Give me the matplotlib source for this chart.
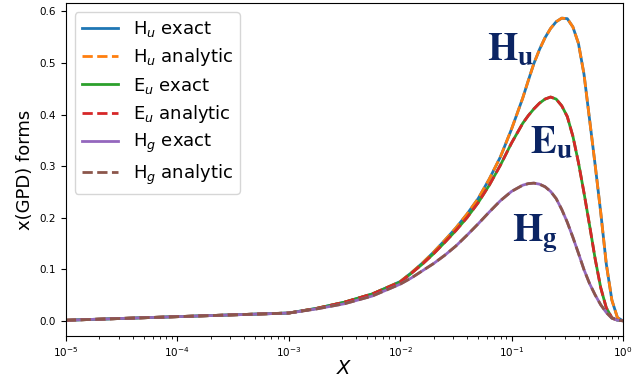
import numpy as np
import matplotlib
matplotlib.use('Agg')
import matplotlib.pyplot as plt

# x grid (log10 of x) and curve values
log_x = [-5, -4, -3, -2.75, -2.5, -2.25, -2.0, -1.9, -1.8, -1.7, -1.6, -1.5,
         -1.4, -1.3, -1.2, -1.1, -1.0, -0.9, -0.85, -0.8, -0.75, -0.7, -0.65,
         -0.6, -0.55, -0.5, -0.45, -0.4, -0.35, -0.3, -0.25, -0.2, -0.15,
         -0.1, -0.05, 0]
hu = [0.001, 0.008, 0.015, 0.024, 0.036, 0.052, 0.076, 0.093, 0.112, 0.133,
      0.156, 0.180, 0.207, 0.237, 0.275, 0.318, 0.372, 0.432, 0.466, 0.499,
      0.526, 0.549, 0.567, 0.580, 0.587, 0.586, 0.570, 0.538, 0.478, 0.390,
      0.302, 0.210, 0.110, 0.040, 0.006, 0.0]
eu = [0.001, 0.008, 0.015, 0.024, 0.036, 0.052, 0.075, 0.092, 0.110, 0.130,
      0.152, 0.175, 0.200, 0.229, 0.263, 0.302, 0.345, 0.383, 0.398, 0.411,
      0.422, 0.430, 0.434, 0.430, 0.417, 0.396, 0.358, 0.307, 0.248, 0.185,
      0.120, 0.064, 0.025, 0.006, 0.001, 0.0]
hg = [0.001, 0.008, 0.015, 0.023, 0.033, 0.048, 0.071, 0.083, 0.097, 0.111,
      0.127, 0.145, 0.166, 0.188, 0.211, 0.233, 0.251, 0.263, 0.266, 0.267,
      0.265, 0.260, 0.251, 0.237, 0.216, 0.191, 0.162, 0.131, 0.099, 0.072,
      0.050, 0.031, 0.016, 0.005, 0.001, 0.0]

x = 10.0 ** np.array(log_x)

fig = plt.figure(figsize=(6.39, 3.77), dpi=100)
ax = fig.add_axes([0.103, 0.109, 0.872, 0.883])

lw = 2
ax.plot(x, hu, color='C0', lw=lw, label='H$_u$ exact')
ax.plot(x, hu, color='C1', lw=lw, ls='--', label='H$_u$ analytic')
ax.plot(x, eu, color='C2', lw=lw, label='E$_u$ exact')
ax.plot(x, eu, color='C3', lw=lw, ls='--', label='E$_u$ analytic')
ax.plot(x, hg, color='C4', lw=lw, label='H$_g$ exact')
ax.plot(x, hg, color='C5', lw=lw, ls='--', label='H$_g$ analytic')

ax.set_xscale('log')
ax.set_xlim(1e-5, 1)
ax.tick_params(labelsize=7.5)
ax.set_xlabel('$X$', fontsize=14, labelpad=0)
ax.set_ylabel('x(GPD) forms', fontsize=13)
ax.legend(loc='upper left', fontsize=13, handlelength=2.0, labelspacing=0.4)

navy = '#0b2463'
ax.text(0.060, 0.506, r'$\mathbf{H_u}$', fontsize=28, color=navy,
        math_fontfamily='stix', va='baseline')
ax.text(0.1455, 0.324, r'$\mathbf{E_u}$', fontsize=28, color=navy,
        math_fontfamily='stix', va='baseline')
ax.text(0.1005, 0.152, r'$\mathbf{H_g}$', fontsize=28, color=navy,
        math_fontfamily='stix', va='baseline')

fig.savefig('out.png', dpi=100)
